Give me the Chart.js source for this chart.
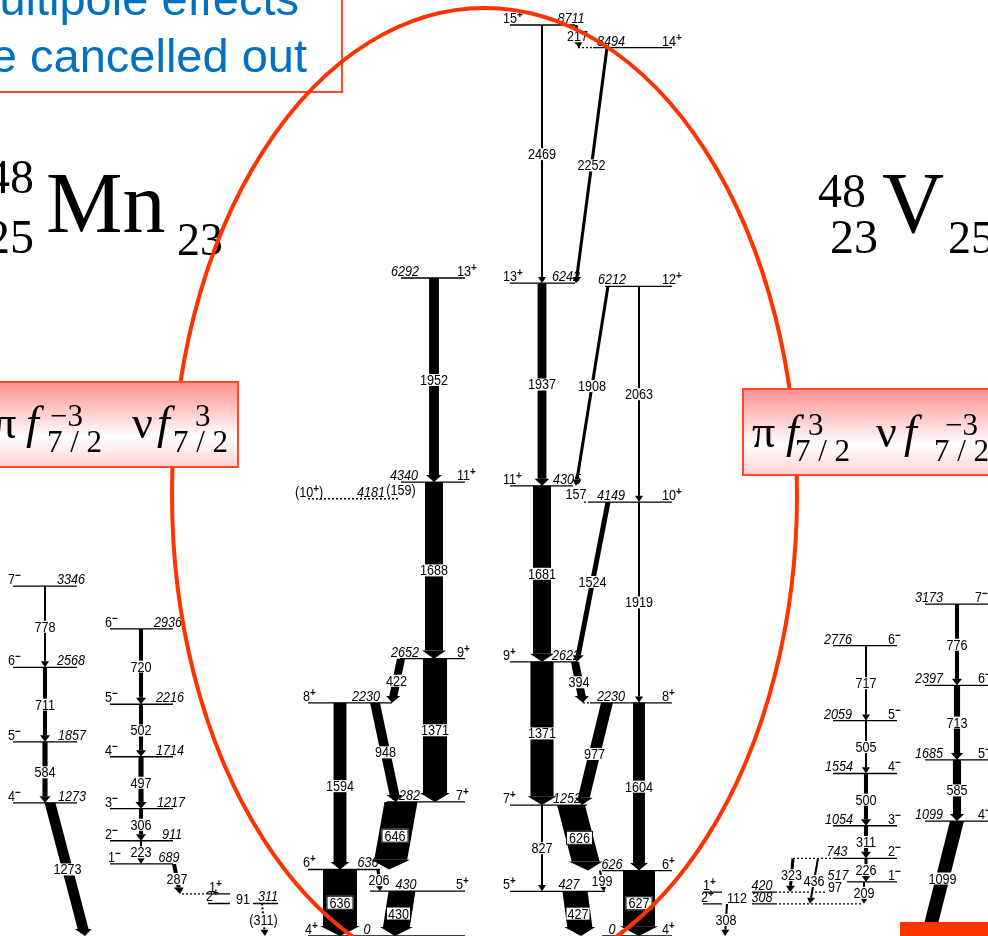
<!DOCTYPE html>
<html>
<head>
<meta charset="utf-8">
<title>48Mn / 48V mirror level schemes</title>
<script src="https://cdn.jsdelivr.net/npm/chart.js@4.4.1/dist/chart.umd.min.js"></script>
<style>
  html, body { margin: 0; padding: 0; background: #fff; overflow: hidden; }
  canvas { display: block; }
</style>
</head>
<body>
<canvas id="scheme" width="988" height="936"></canvas>
<script>
// Energy axis (keV) spans the canvas height, x axis is the horizontal layout
const KEV_TOP = 8950;
const X_RIGHT = 988;

// ---------- 48Mn positive-parity band ----------
// [level energy keV, spin-parity]
const mnPosLevels = [
  [0, '4+'], [430, '5+'], [636, '6+'], [1282, '7+'], [2230, '8+'],
  [2652, '9+'], [4181, '(10+)'], [4340, '11+'], [6292, '13+']
];
// [E-gamma keV, from level, to level, relative intensity]
const mnPosGammas = [
  [1952, 6292, 4340, 29], [159, 4340, 4181, 0], [1688, 4340, 2652, 53],
  [1371, 2652, 1282, 71], [422, 2652, 2230, 24], [948, 2230, 1282, 29],
  [1594, 2230, 636, 38], [646, 1282, 636, 97], [206, 636, 430, 9],
  [636, 636, 0, 100], [430, 430, 0, 79]
];

// ---------- 48V positive-parity band ----------
const vPosLevels = [
  [0, '4+'], [427, '5+'], [626, '6+'], [1252, '7+'], [2230, '8+'], [2622, '9+'],
  [4149, '10+'], [4305, '11+'], [6212, '12+'], [6242, '13+'], [8494, '14+'], [8711, '15+']
];
const vPosGammas = [
  [2469, 8711, 6242, 6], [217, 8711, 8494, 9], [2252, 8494, 6242, 9],
  [1937, 6242, 4305, 26], [1908, 6212, 4305, 9], [2063, 6212, 4149, 6],
  [157, 4305, 4149, 0], [1681, 4305, 2622, 53], [1524, 4149, 2622, 15],
  [1919, 4149, 2230, 6], [1371, 2622, 1252, 68], [394, 2622, 2230, 24],
  [977, 2230, 1252, 35], [1604, 2230, 626, 35], [827, 1252, 427, 6],
  [626, 1252, 626, 82], [199, 626, 427, 6], [627, 626, 0, 94], [427, 427, 0, 74]
];

// ---------- 48Mn negative-parity states ----------
const mnNegLevels = [
  [311, '2+'], [402, '1+'], [689, '1-'], [911, '2-'], [1217, '3-'], [1273, '4-'],
  [1714, '4-'], [1857, '5-'], [2216, '5-'], [2568, '6-'], [2936, '6-'], [3346, '7-']
];
const mnNegGammas = [
  [778, 3346, 2568, 6], [711, 2568, 1857, 12], [584, 1857, 1273, 15], [1273, 1273, 0, 32],
  [720, 2936, 2216, 12], [502, 2216, 1714, 12], [497, 1714, 1217, 15], [306, 1217, 911, 12],
  [223, 911, 689, 6], [287, 689, 402, 12], [91, 402, 311, 0], [311, 311, 0, 6]
];

// ---------- 48V negative-parity states ----------
const vNegLevels = [
  [308, '2+'], [420, '1+'], [517, '1-'], [743, '2-'], [1054, '3-'], [1099, '4-'],
  [1554, '4-'], [1685, '5-'], [2059, '5-'], [2397, '6-'], [2776, '6-'], [3173, '7-']
];
const vNegGammas = [
  [717, 2776, 2059, 6], [505, 2059, 1554, 6], [500, 1554, 1054, 12], [311, 1054, 743, 12],
  [226, 743, 517, 9], [209, 517, 308, 6], [323, 743, 420, 9], [436, 743, 308, 6],
  [97, 517, 420, 0], [112, 420, 308, 0], [308, 308, 0, 6],
  [776, 3173, 2397, 12], [713, 2397, 1685, 18], [585, 1685, 1099, 24], [1099, 1099, 0, 41]
];

// nuclide symbols [A, Z, symbol, N] and the dominant configurations [pi exponent, nu exponent]
const nuclides = [[48, 25, 'Mn', 23], [48, 23, 'V', 25]];
const configs = [['\u22123', '3'], ['3', '\u22123']];
const noteLines = ['multipole effects', 'are cancelled out'];

// ---------- layout ----------
// level placement, same order as the level lists:
// [line start, line end, energy label centre, spin label left, dashed]
const mnPosLevelX = [
  [308, 465, 367, 305], [370, 465, 406, 456], [308, 380, 368, 303], [387, 465, 406, 456],
  [308, 392, 366, 303], [400, 465, 405, 457], [308, 400, 371, 295, true], [401, 465, 404, 457],
  [401, 465, 405, 457]
];
const vPosLevelX = [
  [602, 672, 612, 662], [510, 605, 569, 503], [602, 672, 612, 662], [510, 587, 567, 503],
  [590, 672, 611, 662], [510, 577, 566, 503], [590, 672, 611, 662], [510, 573, 567, 503],
  [605, 672, 612, 662], [510, 575, 566, 503], [593, 672, 611, 662], [510, 575, 571, 503]
];
const mnNegLevelX = [
  [208, 230, 268, 206], [208, 230, null, 209], [110, 173, 169, 108], [110, 173, 172, 105],
  [110, 173, 171, 105], [13, 77, 72, 8], [110, 173, 170, 105], [13, 77, 72, 8],
  [110, 173, 170, 105], [13, 77, 71, 8], [110, 173, 168, 105], [13, 77, 71, 8]
];
const vNegLevelX = [
  [703, 722, 762, 701], [703, 722, 762, 703], [847, 897, 838, 888], [833, 897, 837, 888],
  [833, 897, 839, 888], [925, 988, 929, 978], [833, 897, 839, 888], [925, 988, 929, 978],
  [833, 897, 838, 888], [925, 988, 929, 978], [833, 897, 838, 888], [925, 988, 929, 975]
];
// gamma placement, same order as the gamma lists: [x at top, x at bottom, style]
// style: 'box' framed label, 'none' label only, 'tent' dashed arrow with (label)
const mnPosGammaX = [
  [434, 434], [401, 401, 'tentNone'], [434, 434], [435, 435], [401, 392], [375, 396],
  [340, 340], [401, 389, 'box'], [378, 380], [340, 340, 'box'], [402, 395]
];
const vPosGammaX = [
  [542, 542], [576, 579], [607, 576], [542, 542], [608, 576], [639, 639],
  [576, 576, 'none'], [542, 542], [608, 577], [639, 639], [542, 542], [575, 583],
  [607, 582], [639, 639], [542, 542], [571, 588, 'box'], [600, 604], [639, 639, 'box'], [575, 581]
];
const mnNegGammaX = [
  [45, 45], [45, 45], [45, 45], [50, 85], [141, 141], [141, 141], [141, 141], [141, 141],
  [141, 141], [174, 180], [243, 243, 'none'], [262, 265, 'tent']
];
const vNegGammaX = [
  [866, 866], [866, 866], [866, 866], [866, 866], [866, 866], [864, 864], [793, 790], [818, 810],
  [835, 835, 'none'], [737, 737, 'none'], [727, 725],
  [957, 957], [957, 957], [957, 957], [957, 928]
];
// extra pieces of level lines: [energy, x0, x1, dashed]
const levelLinks = [
  [311, 253, 278, false], [402, 182, 208, true],
  [8494, 578, 593, true], [4149, 584, 590, true], [2230, 583, 590, true],
  [743, 793, 833, true], [420, 752, 775, false], [420, 775, 825, true],
  [308, 752, 775, false], [308, 775, 862, true]
];
// highlight ring around the positive-parity bands: centre and radii in axis units
const ring = { x: 484.5, E: 4217, rx: 312.5, rE: 4657 };

const schemes = [
  [mnPosLevels, mnPosLevelX, mnPosGammas, mnPosGammaX],
  [vPosLevels, vPosLevelX, vPosGammas, vPosGammaX],
  [mnNegLevels, mnNegLevelX, mnNegGammas, mnNegGammaX],
  [vNegLevels, vNegLevelX, vNegGammas, vNegGammaX]
];

const PX_PER_INTENSITY = 0.34;
const SQUEEZE = 0.9;
const SANS = '"Liberation Sans", Arial, Helvetica, sans-serif';
const SERIF = '"Liberation Serif", "Times New Roman", serif';

// level lines as two line datasets (solid / dotted), broken with null points
const solidPts = [], dashPts = [];
schemes.forEach(([levels, lx]) => {
  levels.forEach(([E], i) => {
    const [x0, x1, , , dashed] = lx[i];
    const pts = dashed ? dashPts : solidPts;
    pts.push({ x: x0, y: E }, { x: x1, y: E }, { x: x1, y: null });
  });
});
levelLinks.forEach(([E, x0, x1, dashed]) => {
  const pts = dashed ? dashPts : solidPts;
  pts.push({ x: x0, y: E }, { x: x1, y: E }, { x: x1, y: null });
});

// condensed sans text, returns drawn width
function put(ctx, s, x, y, o = {}) {
  const size = o.size || 14;
  ctx.save();
  ctx.font = (o.italic ? 'italic ' : '') + (o.bold ? 'bold ' : '') + size + 'px ' + SANS;
  ctx.textAlign = o.align || 'center';
  ctx.textBaseline = 'alphabetic';
  ctx.fillStyle = o.color || '#000';
  const w = ctx.measureText(s).width * SQUEEZE;
  ctx.translate(x, y);
  ctx.scale(SQUEEZE, 1);
  ctx.fillText(s, 0, 0);
  ctx.restore();
  return w;
}

function spinLabel(ctx, s, x, y) {
  const m = s.match(/^(\(?)(\d+)([+-])(\)?)$/);
  let cx = x;
  cx += put(ctx, m[1] + m[2], cx, y, { align: 'left' });
  cx += put(ctx, m[3] === '+' ? '+' : '\u2212', cx, y - 5, { align: 'left', size: 11, bold: true });
  if (m[4]) put(ctx, m[4], cx, y, { align: 'left' });
}

function arrow(ctx, xa, ya, xb, yb, w, dashed) {
  const len = Math.hypot(xb - xa, yb - ya);
  const headLen = Math.min(6 + w * 0.12, len * 0.6);
  const headHalf = w / 2 + 3;
  const t = 1 - headLen / len;
  const xh = xa + (xb - xa) * t, yh = ya + (yb - ya) * t;
  const hw = w / 2;
  ctx.fillStyle = '#000';
  if (dashed) {
    ctx.save();
    ctx.strokeStyle = '#000';
    ctx.lineWidth = w;
    ctx.setLineDash([2, 2]);
    ctx.beginPath(); ctx.moveTo(xa, ya); ctx.lineTo(xh, yh); ctx.stroke();
    ctx.restore();
  } else {
    ctx.beginPath();
    ctx.moveTo(xa - hw, ya); ctx.lineTo(xa + hw, ya);
    ctx.lineTo(xh + hw, yh); ctx.lineTo(xh - hw, yh);
    ctx.closePath(); ctx.fill();
  }
  ctx.beginPath();
  ctx.moveTo(xh - headHalf, yh); ctx.lineTo(xh + headHalf, yh); ctx.lineTo(xb, yb);
  ctx.closePath(); ctx.fill();
}

function gammaLabel(ctx, text, x, y, style) {
  ctx.save();
  ctx.font = '14px ' + SANS;
  const w = ctx.measureText(text).width * SQUEEZE;
  ctx.fillStyle = '#fff';
  if (style === 'box') {
    ctx.fillRect(x - w / 2 - 3, y - 7, w + 6, 14);
    ctx.strokeStyle = '#000';
    ctx.lineWidth = 1;
    ctx.strokeRect(x - w / 2 - 2.5, y - 6.5, w + 5, 13);
  } else {
    ctx.fillRect(x - w / 2 - 1, y - 6, w + 2, 12);
  }
  ctx.restore();
  put(ctx, text, x, y + 5);
}

function serif(ctx, s, x, y, size, o = {}) {
  ctx.font = (o.italic ? 'italic ' : '') + size + 'px ' + SERIF;
  ctx.textAlign = o.align || 'left';
  ctx.textBaseline = 'alphabetic';
  ctx.fillStyle = '#000';
  ctx.fillText(s, x, y);
}

function configBox(ctx, x0, x1, top, bottom, base, exps, pos) {
  const g = ctx.createLinearGradient(0, top, 0, bottom);
  g.addColorStop(0, '#ff8f8f');
  g.addColorStop(0.65, '#ffffff');
  g.addColorStop(1, '#ffd0d0');
  ctx.fillStyle = g;
  ctx.fillRect(x0, top, x1 - x0, bottom - top);
  ctx.strokeStyle = '#ff4a26';
  ctx.lineWidth = 2;
  ctx.strokeRect(x0, top, x1 - x0, bottom - top);
  // pi f^a_{7/2}  nu f^b_{7/2}
  serif(ctx, '\u03c0', pos.pi, base, 46);
  serif(ctx, 'f', pos.f1, base, 46, { italic: true });
  serif(ctx, exps[0], pos.sup1, base - 12, 31);
  serif(ctx, '7 / 2', pos.sub1, base + 14, 31);
  serif(ctx, '\u03bd', pos.nu, base, 46);
  serif(ctx, 'f', pos.f2, base, 46, { italic: true });
  serif(ctx, exps[1], pos.sup2, base - 12, 31);
  serif(ctx, '7 / 2', pos.sub2, base + 14, 31);
}

const decorations = {
  id: 'decorations',
  afterDatasetsDraw(chart) {
    const ctx = chart.ctx;
    const xs = chart.scales.x, ys = chart.scales.y;
    const px = v => xs.getPixelForValue(v);
    const py = E => ys.getPixelForValue(E);

    ctx.save();
    // level labels
    schemes.forEach(([levels, lx]) => {
      levels.forEach(([E, J], i) => {
        const [, , eX, jX] = lx[i];
        const y = py(E) - 2;
        if (eX !== null) put(ctx, String(E), px(eX), y, { italic: true });
        spinLabel(ctx, J, px(jX), y);
      });
    });

    // gamma arrows, then their labels on top
    const labels = [];
    schemes.forEach(([, , gammas, gx]) => {
      gammas.forEach(([Eg, Ei, Ef, I], i) => {
        const [xt, xb, style] = gx[i];
        const ya = py(Ei), yb = py(Ef);
        if (style !== 'none' && style !== 'tentNone') {
          arrow(ctx, px(xt), ya, px(xb), yb, Math.max(I * PX_PER_INTENSITY, 1.5), style === 'tent');
        }
        const text = style === 'tent' || style === 'tentNone' ? '(' + Eg + ')' : String(Eg);
        labels.push([text, (px(xt) + px(xb)) / 2, (ya + yb) / 2, style]);
      });
    });
    labels.forEach(([t, x, y, s]) => gammaLabel(ctx, t, x, y, s));

    // nuclide symbols
    const [mn, v] = nuclides;
    serif(ctx, String(mn[0]), 34, 193, 48, { align: 'right' });
    serif(ctx, String(mn[1]), 34, 253, 48, { align: 'right' });
    serif(ctx, mn[2], 46, 232, 86);
    serif(ctx, String(mn[3]), 177, 255, 46);
    serif(ctx, String(v[0]), 818, 207, 48);
    serif(ctx, String(v[1]), 830, 253, 48);
    serif(ctx, v[2], 882, 232, 86);
    serif(ctx, String(v[3]), 948, 253, 46);

    // note box, top left
    ctx.font = '47px ' + SANS;
    ctx.fillStyle = '#0070c0';
    ctx.textAlign = 'right';
    ctx.textBaseline = 'alphabetic';
    ctx.fillText(noteLines[0], 299, 15);
    ctx.fillText(noteLines[1], 307, 72);
    ctx.strokeStyle = '#ff4a26';
    ctx.lineWidth = 2;
    ctx.strokeRect(-2, -2, 344, 94);

    // ring around the positive-parity bands
    ctx.strokeStyle = '#ff3300';
    ctx.lineWidth = 4;
    ctx.beginPath();
    const cx = px(ring.x), cy = py(ring.E);
    ctx.ellipse(cx, cy, px(ring.x + ring.rx) - cx, cy - py(ring.E + ring.rE), 0, 0, Math.PI * 2);
    ctx.stroke();

    // configuration boxes
    configBox(ctx, -3, 238, 382, 467, 438, configs[0],
      { pi: -7, f1: 26, sup1: 50, sub1: 47, nu: 132, f2: 157, sup2: 195, sub2: 173 });
    configBox(ctx, 743, 992, 389, 475, 447, configs[1],
      { pi: 752, f1: 786, sup1: 808, sub1: 795, nu: 876, f2: 904, sup2: 945, sub2: 934 });

    // bar at the lower right corner
    ctx.fillStyle = '#ff3300';
    ctx.fillRect(900, 922, 88, 14);
    ctx.restore();
  }
};

new Chart(document.getElementById('scheme'), {
  type: 'scatter',
  data: {
    datasets: [
      { data: solidPts, showLine: true, borderColor: '#000', borderWidth: 1.3, pointRadius: 0, spanGaps: false },
      { data: dashPts, showLine: true, borderColor: '#000', borderWidth: 1.3, borderDash: [2, 2], pointRadius: 0, spanGaps: false }
    ]
  },
  options: {
    responsive: false,
    animation: false,
    events: [],
    layout: { padding: 0 },
    scales: {
      x: { type: 'linear', min: 0, max: X_RIGHT, display: false },
      y: { type: 'linear', min: 0, max: KEV_TOP, display: false }
    },
    plugins: { legend: { display: false }, tooltip: { enabled: false } }
  },
  plugins: [decorations]
});
</script>
</body>
</html>
